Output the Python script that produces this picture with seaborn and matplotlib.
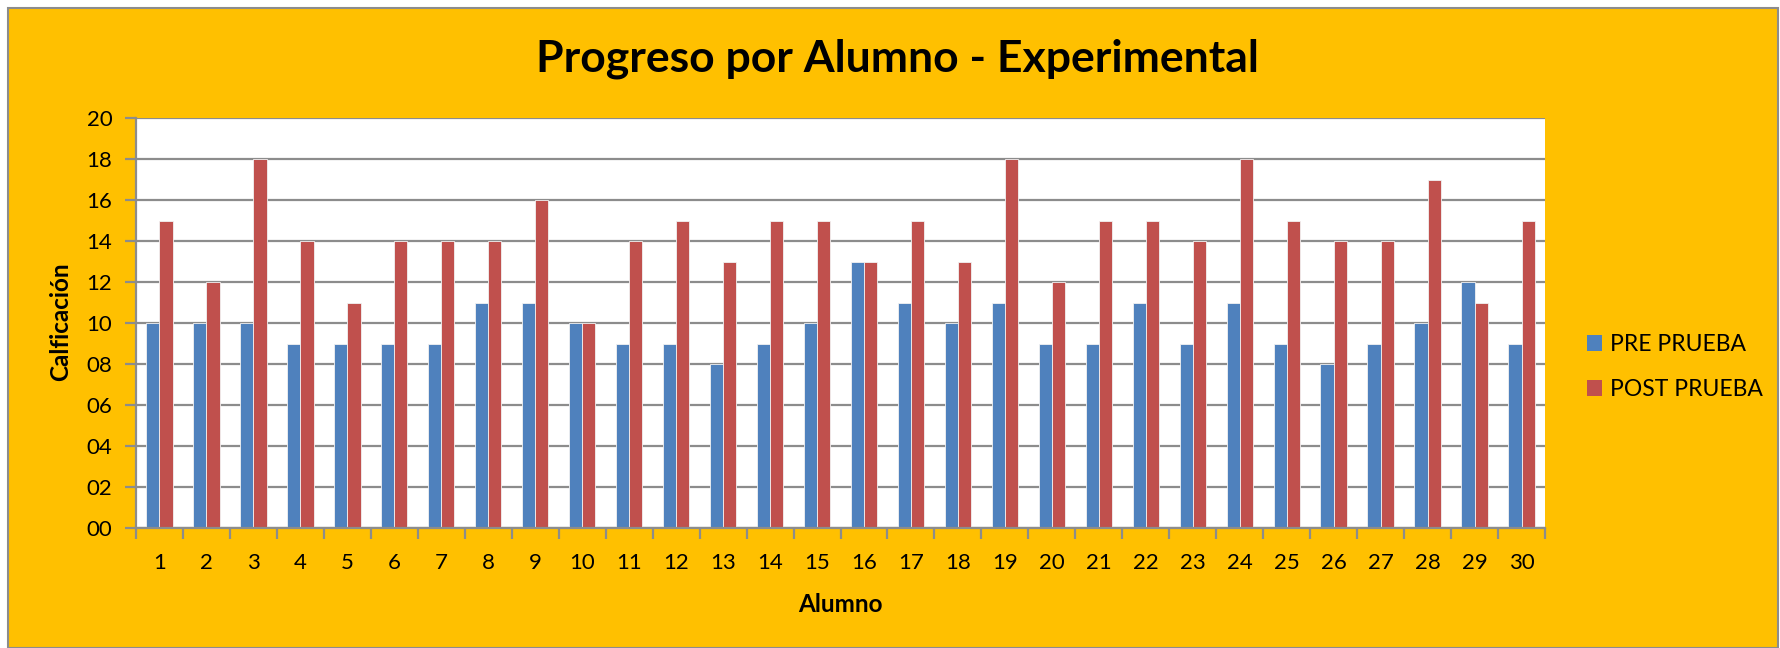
import numpy as np
import pandas as pd
import matplotlib
matplotlib.use('Agg')
import matplotlib.pyplot as plt
import seaborn as sns
from matplotlib.ticker import FormatStrFormatter, FixedLocator
from matplotlib.patches import Rectangle

# Datos
alumnos = list(range(1, 31))
pre_prueba = [10, 10, 10, 9, 9, 9, 9, 11, 11, 10, 9, 9, 8, 9, 10,
              13, 11, 10, 11, 9, 9, 11, 9, 11, 9, 8, 9, 10, 12, 9]
post_prueba = [15, 12, 18, 14, 11, 14, 14, 14, 16, 10, 14, 15, 13, 15, 15,
               13, 15, 13, 18, 12, 15, 15, 14, 18, 15, 14, 14, 17, 11, 15]
series = ['PRE PRUEBA', 'POST PRUEBA']
colores = ['#4F81BD', '#C0504D']

df = pd.DataFrame({'Alumno': alumnos, 'PRE PRUEBA': pre_prueba, 'POST PRUEBA': post_prueba})
df = df.melt(id_vars='Alumno', var_name='Prueba', value_name='Calificacion')

sns.set_style('white')
plt.rcParams['font.family'] = ['Lato', 'DejaVu Sans']
plt.rcParams['text.color'] = 'black'
plt.rcParams['axes.labelcolor'] = 'black'
plt.rcParams['xtick.labelcolor'] = 'black'
plt.rcParams['ytick.labelcolor'] = 'black'

gold = '#FFC000'
gris = '#8C8C8C'

fig = plt.figure(figsize=(17.8, 6.48), dpi=100)
fig.patch.set_facecolor('white')
# marco dorado con borde gris
fig.patches.append(Rectangle((8 / 1780, 0), 1 - 10 / 1780, 1 - 8 / 648,
                             transform=fig.transFigure, facecolor=gold,
                             edgecolor=gris, linewidth=1.5, zorder=-5))

ax = fig.add_axes([136 / 1780, 1 - 528 / 648, (1545 - 136) / 1780, (528 - 118) / 648])
ax.set_facecolor('white')

sns.barplot(data=df, x='Alumno', y='Calificacion', hue='Prueba', hue_order=series,
            palette=colores, width=0.56, saturation=1, edgecolor='#F2F2F2',
            linewidth=0.6, ax=ax)

ax.set_ylim(0, 20)
ax.set_xlim(-0.5, 29.5)
ax.set_yticks(np.arange(0, 21, 2))
ax.yaxis.set_major_formatter(FormatStrFormatter('%02d'))
ax.yaxis.grid(True, color=gris, linewidth=1.6)
ax.set_axisbelow(True)

for s in ['right', 'top']:
    ax.spines[s].set_visible(False)
for s in ['left', 'bottom']:
    ax.spines[s].set_color(gris)
    ax.spines[s].set_linewidth(1.6)

ax.tick_params(axis='y', which='major', direction='out', length=8, width=1.6,
               color=gris, labelsize=16, pad=9, left=True)
ax.tick_params(axis='x', which='major', length=0, labelsize=16, pad=18)
ax.xaxis.set_minor_locator(FixedLocator(np.arange(-0.5, 30, 1)))
ax.tick_params(axis='x', which='minor', direction='out', length=8, width=1.6,
               color=gris, bottom=True)

ax.set_xlabel('')
ax.set_ylabel('')
fig.text(840 / 1780, 1 - 604 / 648, 'Alumno', ha='center', va='center',
         fontsize=17.5, fontweight='bold')
fig.text(61 / 1780, 1 - 322 / 648, 'Calficación', ha='center', va='center',
         rotation=90, fontsize=17.5, fontweight='bold')

fig.text(897 / 1780, 1 - 59 / 648, 'Progreso por Alumno - Experimental',
         ha='center', va='center', fontsize=32, fontweight='bold')

ax.legend_.remove()
handles = [Rectangle((0, 0), 1, 1, facecolor=c, edgecolor='none') for c in colores]
fig.legend(handles, series, loc='upper left', bbox_to_anchor=(1587 / 1780, 1 - 334 / 648),
           frameon=False, fontsize=16.5, handlelength=0.65, handleheight=0.65,
           handletextpad=0.35, labelspacing=1.05, borderaxespad=0, borderpad=0)

fig.savefig('out.png', dpi=100, facecolor=fig.get_facecolor())
